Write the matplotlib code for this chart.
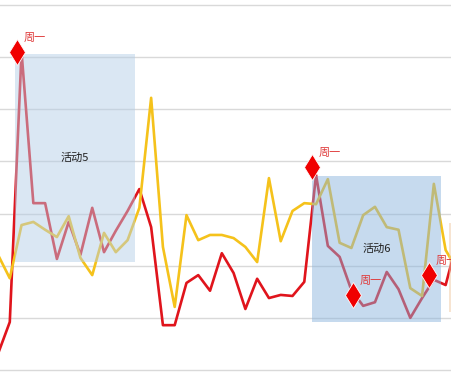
import matplotlib
matplotlib.use("Agg")
import matplotlib.pyplot as plt
from matplotlib.patches import Rectangle

plt.rcParams['font.family'] = ['Noto Sans CJK SC', 'DejaVu Sans']

# two daily series (index = day)
red_vals = [3.1, 9.2, 61.0, 32.0, 32.0, 21.3, 28.4, 22.1, 31.1, 22.6,
            26.7, 30.5, 34.7, 27.4, 8.6, 8.6, 16.7, 18.2, 15.2, 22.4,
            18.6, 11.7, 17.5, 13.8, 14.4, 14.2, 16.9, 37.4, 23.8, 21.7,
            15.3, 12.3, 13.0, 18.8, 15.5, 10.0, 13.8, 17.3, 16.3, 24.9]
yellow_vals = [22.1, 17.6, 27.8, 28.4, 26.9, 25.5, 29.5, 21.5, 18.2, 26.3,
               22.6, 24.9, 31.1, 52.2, 23.6, 12.1, 29.7, 24.9, 25.9, 25.9,
               25.3, 23.6, 20.7, 36.8, 24.7, 30.5, 32.0, 31.8, 36.6, 24.4,
               23.4, 29.7, 31.3, 27.4, 26.9, 15.7, 14.2, 35.7, 23.0, 19.2]
days = list(range(len(red_vals)))

# "周一" markers
mark_x = [1.6, 26.66, 30.14, 36.59]
mark_y = [61.0, 38.9, 14.4, 18.2]
mark_label = "周一"

# activity areas: (name, x0, x1, y0, y1, colour)
areas = [
    ("活动5", 1.44, 11.63, 20.7, 60.6, "#b2cde6"),
    ("活动6", 26.65, 37.6, 9.2, 37.2, "#88b2dc"),
    ("", 38.3, 41.0, 11.1, 28.2, "#f0c8a0"),
]

fig = plt.figure(figsize=(4.52, 3.88), dpi=100)
ax = fig.add_axes([0, 0, 1, 1])

for g in range(0, 80, 10):
    ax.axhline(g, color="#d9d9d9", lw=1, zorder=0)

ax.plot(days, red_vals, color="#e0141c", lw=1.9, zorder=2)
ax.plot(days, yellow_vals, color="#f5c21b", lw=1.9, zorder=2)

for name, x0, x1, y0, y1, c in areas:
    ax.add_patch(Rectangle((x0, y0), x1 - x0, y1 - y0, facecolor=c,
                           edgecolor="none", alpha=0.48, zorder=3))
    if name:
        ax.text((x0 + x1) / 2, (y0 + y1) / 2, name, ha="center", va="center",
                fontsize=8, color="#222222", zorder=5)

ax.plot(mark_x, mark_y, linestyle="none", marker="d", markersize=13,
        color="#f00000", markeredgecolor="white", markeredgewidth=0.6, zorder=4)
for mx, my in zip(mark_x, mark_y):
    ax.annotate(mark_label, (mx, my), xytext=(13, 10), textcoords="offset points",
                ha="center", va="center", fontsize=8, color="#e03a3a", zorder=5)

ax.set_xlim(0.17, 38.54)
ax.set_ylim(-3.45, 70.96)
ax.axis("off")

fig.savefig("out.png", dpi=100)
